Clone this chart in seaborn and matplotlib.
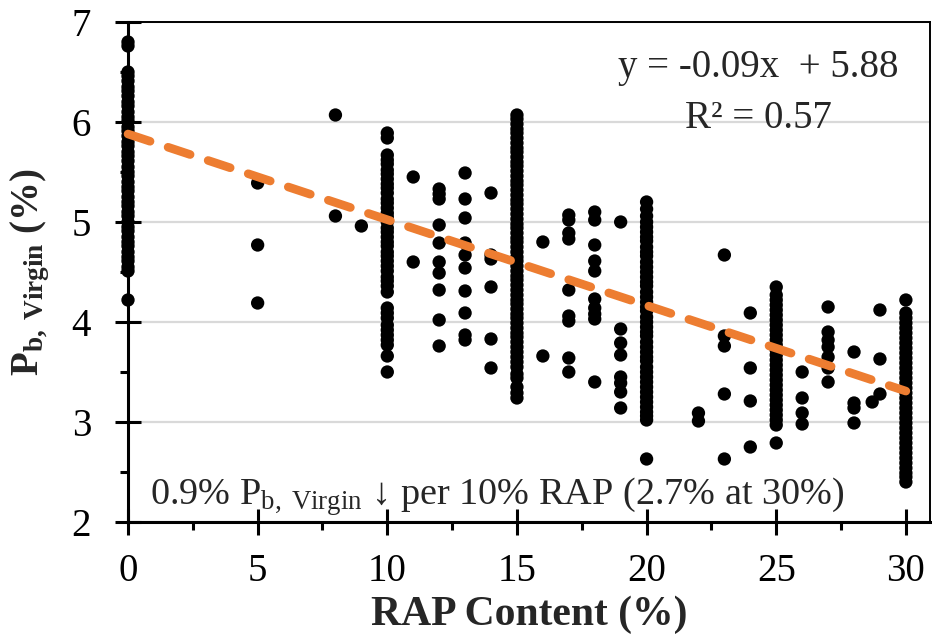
import matplotlib
matplotlib.use("Agg")
import matplotlib.pyplot as plt
from matplotlib.ticker import MultipleLocator
import numpy as np
import pandas as pd
import seaborn as sns

# Virgin binder content P_b (%) measured at each RAP content level (%)
pb_rap00 = [6.80, 6.76, 6.50, 6.46, 6.41, 6.35, 6.31, 6.26, 6.20, 6.16, 6.10, 6.05, 6.01,
            5.95, 5.91, 5.86, 5.80, 5.76, 5.70, 5.66, 5.61, 5.55, 5.50, 5.46, 5.40, 5.35,
            5.31, 5.25, 5.20, 5.16, 5.10, 5.06, 5.00, 4.95, 4.91, 4.85, 4.80, 4.76, 4.70,
            4.65, 4.61, 4.55, 4.51, 4.22]
pb_rap05 = [5.39, 4.77, 4.19]
pb_rap08 = [6.07, 5.06]
pb_rap09 = [4.96]
pb_rap10 = [5.89, 5.84, 5.67, 5.62, 5.58, 5.52, 5.48, 5.43, 5.38, 5.34, 5.29, 5.23, 5.19,
            5.14, 5.09, 5.05, 5.00, 4.94, 4.90, 4.85, 4.80, 4.76, 4.70, 4.66, 4.61, 4.56,
            4.51, 4.45, 4.41, 4.36, 4.30, 4.14, 4.09, 4.04, 3.97, 3.92, 3.87, 3.82, 3.77,
            3.66, 3.50]
pb_rap11 = [5.45, 4.60]
pb_rap12 = [5.33, 5.28, 5.23, 4.97, 4.79, 4.60, 4.49, 4.32, 4.02, 3.76]
pb_rap13 = [5.49, 5.23, 5.04, 4.79, 4.67, 4.54, 4.31, 4.09, 3.87, 3.82]
pb_rap14 = [5.29, 4.67, 4.63, 4.35, 3.83, 3.54]
pb_rap15 = [6.07, 6.03, 5.98, 5.93, 5.89, 5.84, 5.79, 5.74, 5.70, 5.65, 5.60, 5.56, 5.51,
            5.46, 5.41, 5.37, 5.32, 5.27, 5.22, 5.18, 5.13, 5.08, 5.03, 4.98, 4.94, 4.89,
            4.84, 4.80, 4.75, 4.70, 4.65, 4.61, 4.56, 4.51, 4.46, 4.42, 4.37, 4.32, 4.27,
            4.22, 4.18, 4.13, 4.08, 4.04, 3.99, 3.94, 3.89, 3.85, 3.80, 3.75, 3.70, 3.65,
            3.60, 3.55, 3.48, 3.44, 3.35, 3.29, 3.24]
pb_rap16 = [4.80, 3.66]
pb_rap17 = [5.07, 5.02, 4.89, 4.83, 4.32, 4.06, 4.01, 3.64, 3.50]
pb_rap18 = [5.10, 5.02, 4.77, 4.61, 4.51, 4.23, 4.14, 4.08, 4.03, 3.40]
pb_rap19 = [5.00, 3.93, 3.79, 3.67, 3.45, 3.39, 3.30, 3.14]
pb_rap20 = [5.20, 5.13, 5.06, 5.00, 4.95, 4.90, 4.85, 4.81, 4.75, 4.70, 4.66, 4.60, 4.55,
            4.50, 4.45, 4.40, 4.36, 4.30, 4.25, 4.20, 4.15, 4.11, 4.05, 4.00, 3.95, 3.90,
            3.86, 3.80, 3.75, 3.70, 3.65, 3.61, 3.55, 3.50, 3.45, 3.40, 3.35, 3.30, 3.25,
            3.20, 3.15, 3.10, 3.06, 3.02, 2.63]
pb_rap22 = [3.09, 3.01]
pb_rap23 = [4.67, 3.86, 3.76, 3.28, 2.63]
pb_rap24 = [4.09, 3.54, 3.21, 2.75]
pb_rap25 = [4.35, 4.27, 4.22, 4.17, 4.12, 4.07, 4.02, 3.97, 3.92, 3.87, 3.82, 3.77, 3.72,
            3.67, 3.62, 3.57, 3.52, 3.47, 3.42, 3.37, 3.32, 3.27, 3.22, 3.17, 3.12, 3.07,
            3.02, 2.97, 2.79]
pb_rap26 = [3.50, 3.24, 3.09, 2.98]
pb_rap27 = [4.15, 3.90, 3.82, 3.75, 3.65, 3.54, 3.40]
pb_rap28 = [3.70, 3.19, 3.14, 2.99]
pb_rap287 = [3.20]
pb_rap29 = [4.12, 3.63, 3.28]
pb_rap30 = [4.22, 4.09, 4.04, 3.99, 3.94, 3.89, 3.84, 3.79, 3.74, 3.69, 3.64, 3.59, 3.54,
            3.49, 3.44, 3.39, 3.34, 3.29, 3.24, 3.19, 3.14, 3.09, 3.04, 2.99, 2.94, 2.89,
            2.84, 2.79, 2.74, 2.69, 2.64, 2.59, 2.54, 2.49, 2.45, 2.40]

rap_levels = [0, 5, 8, 9, 10, 11, 12, 13, 14, 15, 16, 17, 18, 19, 20,
              22, 23, 24, 25, 26, 27, 28, 28.7, 29, 30]
pb_groups = [pb_rap00, pb_rap05, pb_rap08, pb_rap09, pb_rap10, pb_rap11, pb_rap12,
             pb_rap13, pb_rap14, pb_rap15, pb_rap16, pb_rap17, pb_rap18, pb_rap19,
             pb_rap20, pb_rap22, pb_rap23, pb_rap24, pb_rap25, pb_rap26, pb_rap27,
             pb_rap28, pb_rap287, pb_rap29, pb_rap30]

# Linear trend: P_b,virgin = slope * RAP + intercept
trend_slope = -0.0857
trend_intercept = 5.88
trend_r2 = 0.57
trend_x = [0, 30]

x_ticks = [0, 5, 10, 15, 20, 25, 30]
y_ticks = [2, 3, 4, 5, 6, 7]

df = pd.DataFrame({
    "rap": [r for r, vals in zip(rap_levels, pb_groups) for _ in vals],
    "pb": [v for vals in pb_groups for v in vals],
})

sns.set_style("ticks")
serif = ["Liberation Serif", "DejaVu Serif"]
plt.rcParams["font.family"] = serif
plt.rcParams["mathtext.fontset"] = "custom"
plt.rcParams["mathtext.rm"] = "Liberation Serif"
plt.rcParams["mathtext.it"] = "Liberation Serif:italic"
plt.rcParams["mathtext.bf"] = "Liberation Serif:bold"

fig = plt.figure(figsize=(9.32, 6.40), dpi=100)
ax = fig.add_axes([128 / 932, 1 - 522 / 640, (930 - 128) / 932, 500 / 640])

ax.yaxis.grid(True, color="#d9d9d9", linewidth=1.6)
ax.set_axisbelow(True)

sns.scatterplot(data=df, x="rap", y="pb", ax=ax, color="black", s=92,
                edgecolor="none", linewidth=0, legend=False, zorder=3, clip_on=False)

trend_y = [trend_slope * x + trend_intercept for x in trend_x]
ax.plot(trend_x, trend_y, color="#ed7d31", linewidth=6.2, linestyle=(0, (2.7, 2.2)),
        dash_capstyle="round", zorder=4, clip_on=False)

ax.set_xlim(0, 30.93)
ax.set_ylim(2, 7)
ax.set_xticks(x_ticks)
ax.set_yticks(y_ticks)
ax.xaxis.set_minor_locator(MultipleLocator(2.5))
ax.yaxis.set_minor_locator(MultipleLocator(0.5))

ax.tick_params(which="both", bottom=True, left=True, top=False, right=False)
ax.tick_params(which="major", direction="inout", length=19, width=2.2,
               color="black", labelsize=28, labelcolor="black")
ax.tick_params(axis="x", which="major", pad=13)
ax.tick_params(axis="y", which="major", pad=17)
ax.tick_params(which="minor", direction="out", length=6, width=2.2, color="black")

for side in ("left", "bottom"):
    ax.spines[side].set_linewidth(2.2)
for side in ("top", "right"):
    ax.spines[side].set_linewidth(1.4)
for sp in ax.spines.values():
    sp.set_color("black")
    sp.set_visible(True)
    sp.set_zorder(2.5)

ax.set_xlabel("RAP Content (%)", fontsize=30, fontweight="bold", labelpad=4)
ax.set_ylabel(r"$\mathbf{P_{b,\ Virgin}\ (\%)}$", fontsize=28, labelpad=14)

ax.text(24.3, 6.54, f"y = {trend_slope:.2f}x  + {trend_intercept:.2f}",
        fontsize=28, ha="center", va="center", zorder=5)
ax.text(24.3, 6.04, f"R² = {trend_r2:.2f}",
        fontsize=28, ha="center", va="center", zorder=5)

ax.text(0.85, 2.17, r"0.9% P$_{\mathrm{b,\ Virgin}}$ ↓ per 10% RAP (2.7% at 30%)",
        fontsize=27.5, ha="left", va="baseline", zorder=5)

fig.savefig("out.png", dpi=100)
